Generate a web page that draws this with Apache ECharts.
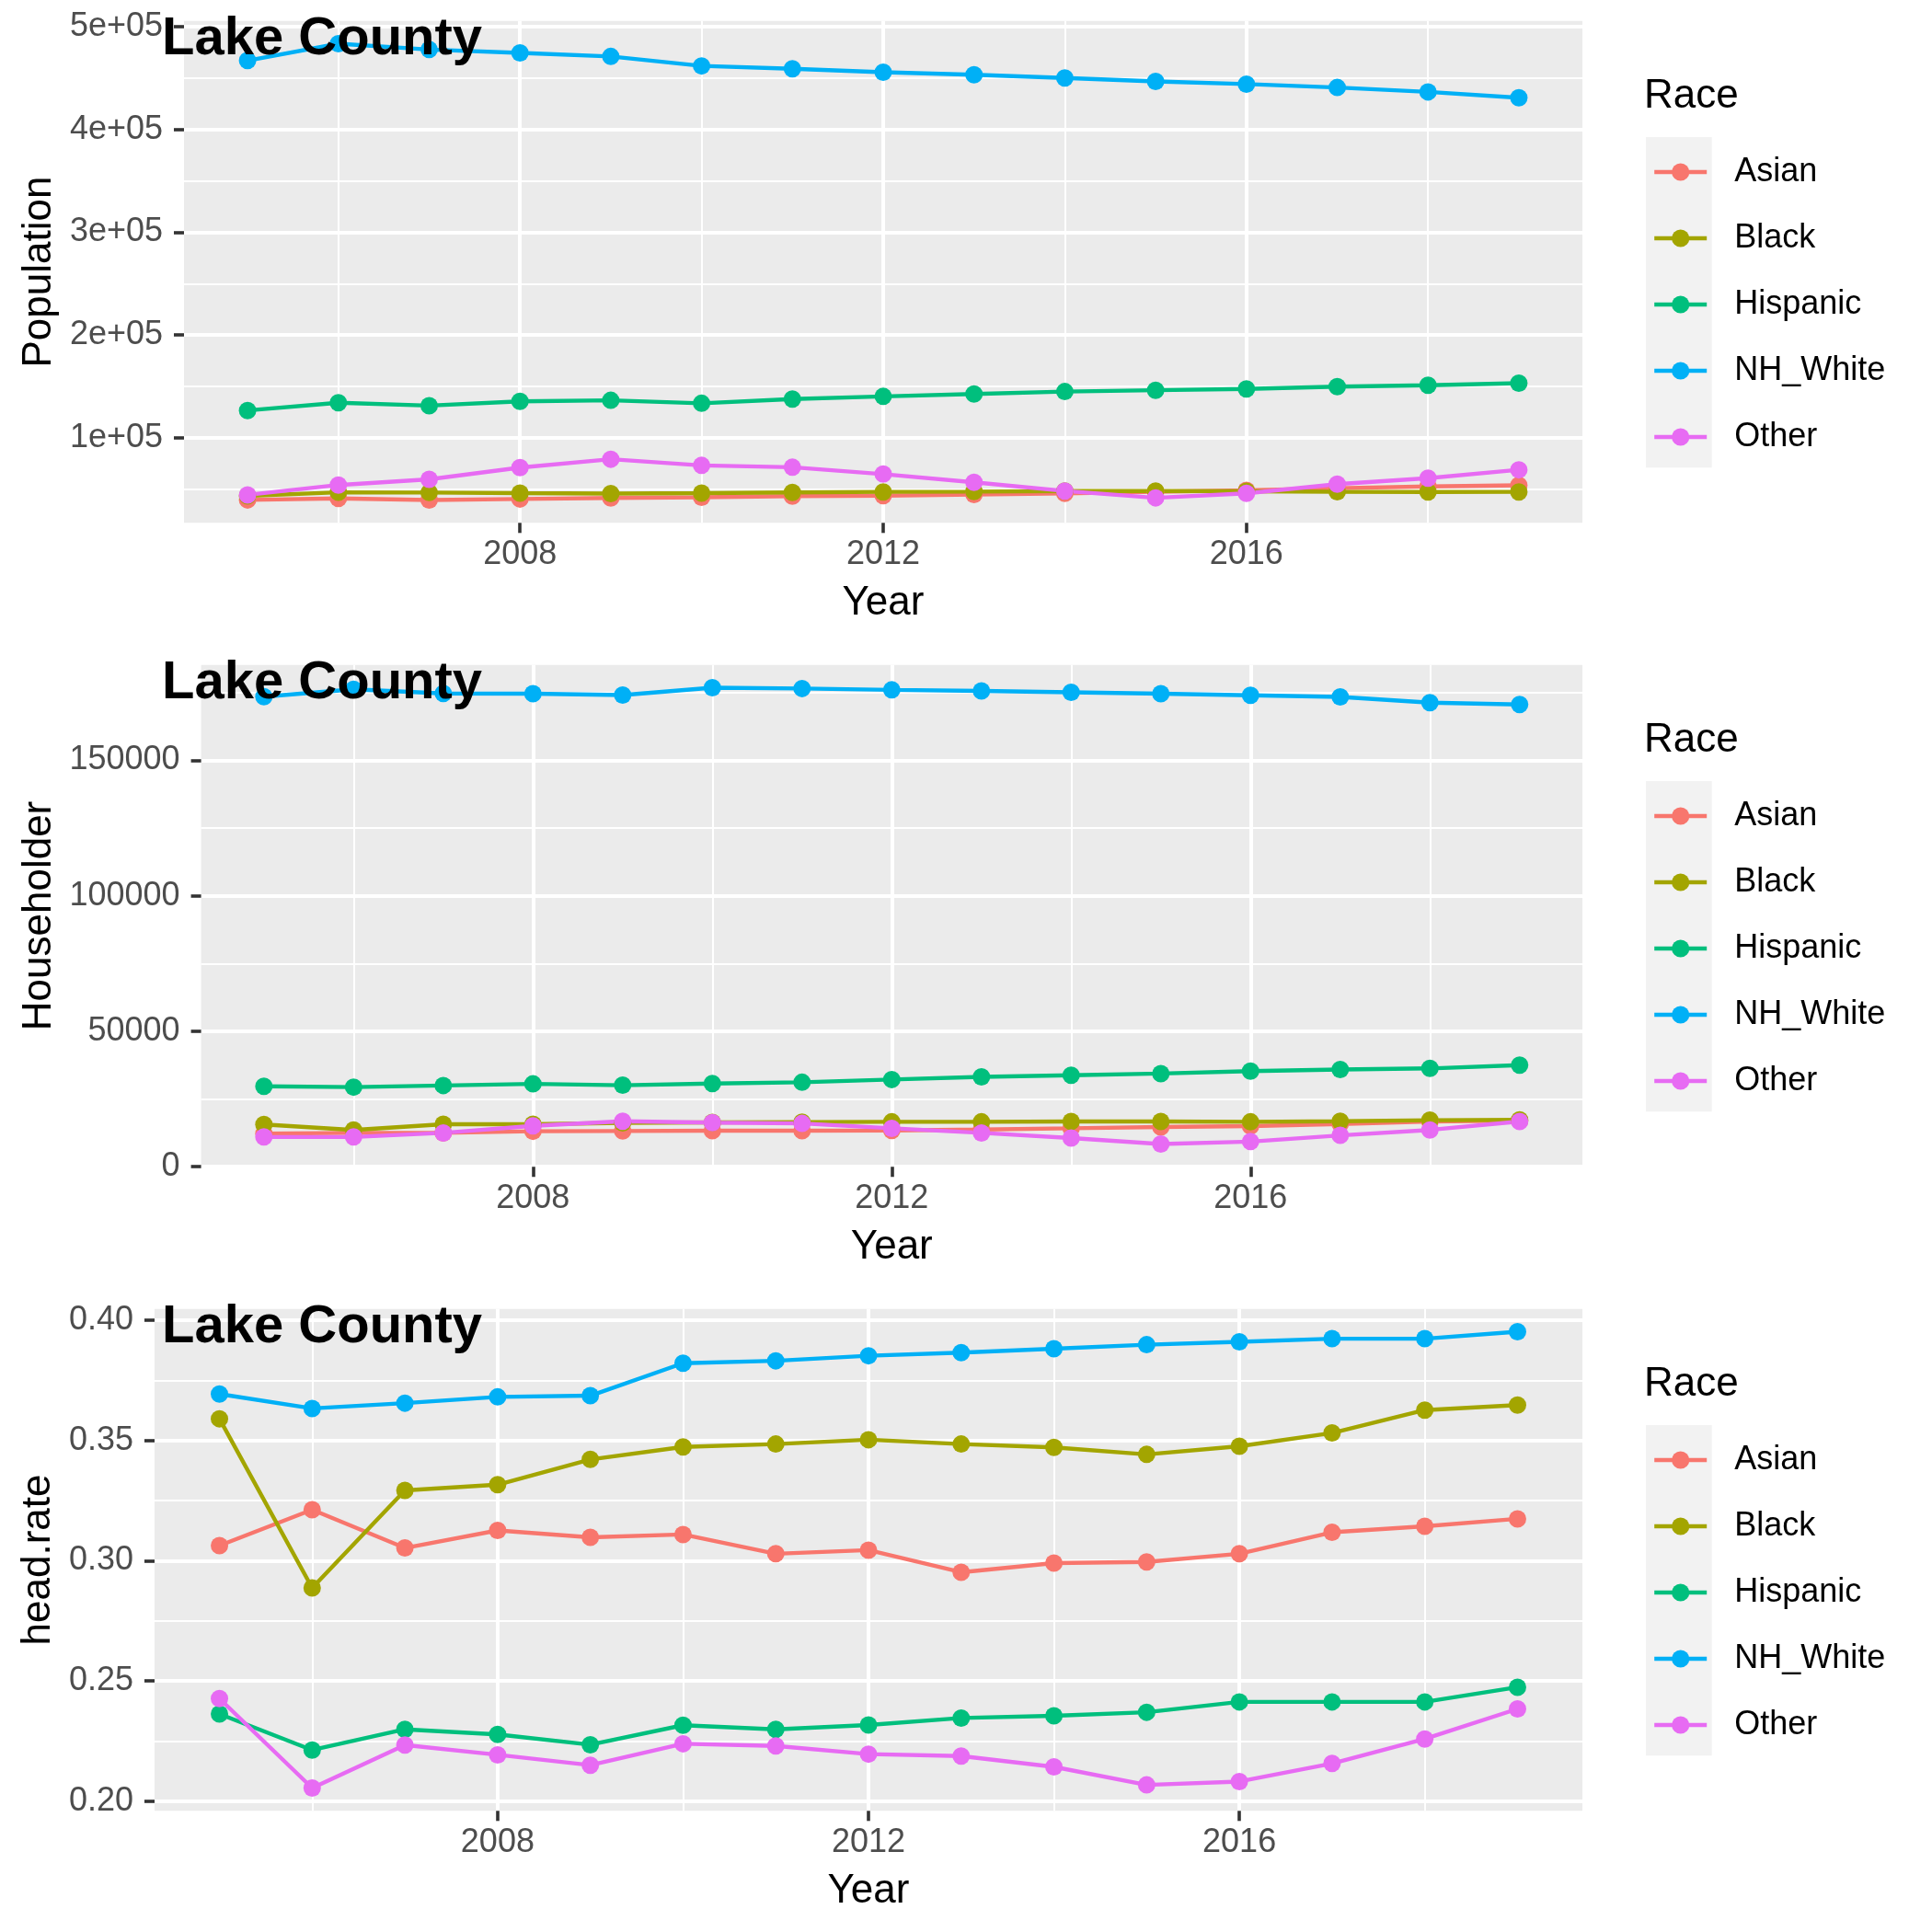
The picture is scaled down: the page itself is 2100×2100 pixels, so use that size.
<!DOCTYPE html>
<html><head><meta charset="utf-8">
<script src="https://cdn.jsdelivr.net/npm/echarts@6/dist/echarts.min.js"></script>
<style>html,body{margin:0;padding:0;background:#fff}#c{width:2100px;height:2100px}</style>
</head><body><div id="c"></div>
<script>
// ---------- data ----------
const years = [2005,2006,2007,2008,2009,2010,2011,2012,2013,2014,2015,2016,2017,2018,2019];
const races = ['Asian','Black','Hispanic','NH_White','Other'];
const colors = ['#F8766D','#A3A500','#00BF7D','#00B0F6','#E76BF3'];

const popAsian    = [39600,41000,39500,40500,41500,42200,43300,43800,44800,46000,47500,48900,51000,52700,53800];
const popBlack    = [43500,47000,46800,46200,45800,46200,46900,47400,47700,48200,48300,48000,47600,47300,47400];
const popHispanic = [126600,134200,131300,135500,136500,133600,137700,140300,142600,145000,146300,147500,149800,151200,153200];
const popWhite    = [467000,483400,477700,474400,471000,461800,459000,455700,453200,450000,446700,444100,440800,436500,430800];
const popOther    = [44500,54100,59600,71000,79200,73200,71400,64700,56700,48300,41600,46000,54900,60700,68900];

const hhAsian    = [12200,12500,12500,13100,13200,13300,13300,13400,13750,14200,14700,15000,15800,16700,17000];
const hhBlack    = [15600,13600,15700,15700,16200,16400,16500,16600,16600,16700,16700,16600,16800,17200,17300];
const hhHispanic = [29700,29400,30000,30600,30100,30700,31200,32200,33200,33800,34400,35300,35900,36300,37500];
const hhWhite    = [173500,176200,174700,174600,174100,176800,176500,176000,175600,175100,174600,174000,173400,171300,170600];
const hhOther    = [11000,11000,12500,15100,16800,16300,16000,14200,12500,10600,8400,9300,11600,13600,16700];

const rateAsian    = [0.3063,0.3212,0.3053,0.3126,0.3097,0.3109,0.3029,0.3044,0.2952,0.2990,0.2995,0.3029,0.3118,0.3143,0.3174];
const rateBlack    = [0.3590,0.2887,0.3292,0.3316,0.3421,0.3473,0.3485,0.3503,0.3485,0.3471,0.3442,0.3476,0.3531,0.3626,0.3647];
const rateHispanic = [0.2363,0.2213,0.2299,0.2278,0.2235,0.2316,0.2299,0.2317,0.2346,0.2355,0.2370,0.2413,0.2413,0.2413,0.2474];
const rateWhite    = [0.3693,0.3633,0.3655,0.3681,0.3686,0.3821,0.3831,0.3852,0.3865,0.3881,0.3898,0.3910,0.3923,0.3923,0.3952];
const rateOther    = [0.2427,0.2055,0.2234,0.2193,0.2150,0.2239,0.2230,0.2196,0.2188,0.2143,0.2068,0.2082,0.2157,0.2259,0.2384];

const xTicks = [2008,2012,2016];
const xMinor = [2006,2010,2014,2018];
const popTicks = [100000,200000,300000,400000,500000];
const popMinor = [50000,150000,250000,350000,450000];
const hhTicks = [0,50000,100000,150000];
const hhMinor = [25000,75000,125000,175000];
const rateTicks = [0.20,0.25,0.30,0.35,0.40];
const rateMinor = [0.225,0.275,0.325,0.375];

// ---------- layout ----------
const FONT = 'Liberation Sans, Arial, sans-serif';
const panels = [
  {name:'Population', series:[popAsian,popBlack,popHispanic,popWhite,popOther], ticks:popTicks, minor:popMinor,
   fmt:v => Math.round(v/1e5)+'e+05', left:200, top:22.7, nameGap:135},
  {name:'Householder', series:[hhAsian,hhBlack,hhHispanic,hhWhite,hhOther], ticks:hhTicks, minor:hhMinor,
   fmt:v => String(Math.round(v)), left:218.6, top:722.7, nameGap:154},
  {name:'head.rate', series:[rateAsian,rateBlack,rateHispanic,rateWhite,rateOther], ticks:rateTicks, minor:rateMinor,
   fmt:v => v.toFixed(2), left:168, top:1422.7, nameGap:103}
];
const RIGHT = 1720, PH = 545.6;
const xMin = years[0] - 0.05*(years[years.length-1]-years[0]);
const xMax = years[years.length-1] + 0.05*(years[years.length-1]-years[0]);

const grid = [], xAxis = [], yAxis = [], series = [], legend = [], title = [], graphic = [];
panels.forEach((p, gi) => {
  const off = gi*700;
  grid.push({left:p.left, top:p.top, width:RIGHT-p.left, height:PH, show:true, backgroundColor:'#EBEBEB', borderWidth:0});
  const all = [].concat(...p.series);
  const dmin = Math.min(...all), dmax = Math.max(...all);
  const yMin = dmin - 0.05*(dmax-dmin), yMax = dmax + 0.05*(dmax-dmin);
  // minor axes
  xAxis.push({type:'value', gridIndex:gi, position:'bottom', offset:0, min:xMin, max:xMax, axisLine:{show:false}, axisLabel:{show:false},
    axisTick:{show:false, customValues:xMinor}, splitLine:{show:true, lineStyle:{color:'#FFFFFF', width:2}}});
  yAxis.push({type:'value', gridIndex:gi, position:'left', offset:0, min:yMin, max:yMax, axisLine:{show:false}, axisLabel:{show:false},
    axisTick:{show:false, customValues:p.minor}, splitLine:{show:true, lineStyle:{color:'#FFFFFF', width:2}}});
  // major axes
  xAxis.push({type:'value', gridIndex:gi, position:'bottom', offset:0, min:xMin, max:xMax, axisLine:{show:false},
    axisTick:{show:true, length:11, customValues:xTicks, lineStyle:{color:'#333333', width:3.6}},
    axisLabel:{customValues:xTicks, margin:17, fontSize:36, color:'#4D4D4D', fontFamily:FONT, formatter:v => String(Math.round(v))},
    splitLine:{show:true, lineStyle:{color:'#FFFFFF', width:4}},
    name:'Year', nameLocation:'middle', nameGap:66, nameTextStyle:{fontSize:44, color:'#000', fontFamily:FONT}});
  yAxis.push({type:'value', gridIndex:gi, position:'left', offset:0, min:yMin, max:yMax, axisLine:{show:false},
    axisTick:{show:true, length:11, customValues:p.ticks, lineStyle:{color:'#333333', width:3.6}},
    axisLabel:{customValues:p.ticks, margin:23, fontSize:36, color:'#4D4D4D', fontFamily:FONT, formatter:p.fmt},
    splitLine:{show:true, lineStyle:{color:'#FFFFFF', width:4}},
    name:p.name, nameLocation:'middle', nameGap:p.nameGap, nameTextStyle:{fontSize:44, color:'#000', fontFamily:FONT}});
  const xi = gi*2+1;
  p.series.forEach((arr, ri) => {
    series.push({type:'line', name:races[ri], xAxisIndex:xi, yAxisIndex:xi, data:years.map((y,k)=>[y,arr[k]]),
      showSymbol:false, symbol:'circle', symbolSize:19, color:colors[ri], z:2,
      lineStyle:{width:4.4, color:colors[ri]}, itemStyle:{color:colors[ri]}, emphasis:{disabled:true}, animation:false});
  });
  p.series.forEach((arr, ri) => {
    series.push({type:'scatter', name:races[ri], xAxisIndex:xi, yAxisIndex:xi, data:years.map((y,k)=>[y,arr[k]]),
      symbol:'circle', symbolSize:19, z:3, itemStyle:{color:colors[ri], opacity:1}, emphasis:{disabled:true}, animation:false});
  });
  legend.push({data:races, orient:'vertical', left:1796, top:169+off, itemWidth:57, itemHeight:24, itemGap:36,
    padding:0, selectedMode:false, lineStyle:{width:4.4},
    textStyle:{fontSize:36, lineHeight:36, color:'#000', fontFamily:FONT, padding:[0,0,0,25]}});
  title.push({text:'Lake County', left:176, top:14.2+off, padding:0,
    textStyle:{fontSize:58, fontWeight:'bold', color:'#000', fontFamily:FONT}});
  title.push({text:'Race', left:1787, top:82.8+off, padding:0,
    textStyle:{fontSize:44, fontWeight:'normal', color:'#000', fontFamily:FONT}});
  graphic.push({type:'rect', left:1789, top:149+off, shape:{width:71.7, height:359.3}, style:{fill:'#F2F2F2'}, z:-1});
});

const chart = echarts.init(document.getElementById('c'), null, {renderer:'canvas'});
chart.setOption({backgroundColor:'#FFFFFF', animation:false, grid, xAxis, yAxis, series, legend, title, graphic});
</script></body></html>
